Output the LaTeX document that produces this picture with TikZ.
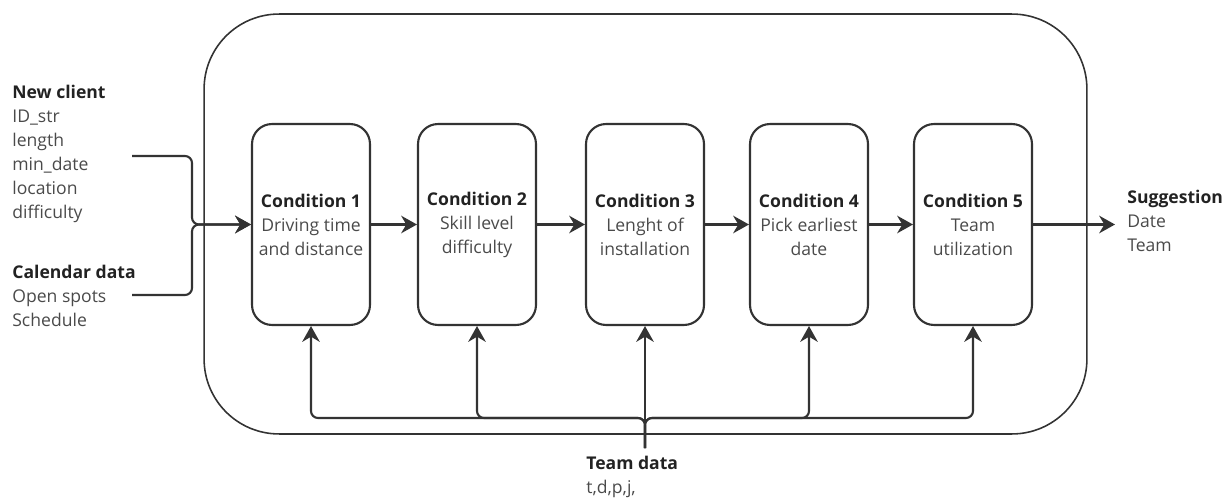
\documentclass[tikz,border=0pt]{standalone}
\usepackage{fontspec}
\setmainfont{Open Sans}
\usepackage{xcolor}
\usetikzlibrary{arrows.meta}
\definecolor{inkline}{HTML}{333333}
\definecolor{inktext}{HTML}{4A4A4A}
\definecolor{inkhead}{HTML}{222222}
\newcommand{\hd}[1]{{\bfseries\color{inkhead}#1}}

\begin{document}
\begin{tikzpicture}[x=0.02cm, y=-0.02cm,
    every node/.style={font=\fontsize{10}{13.66}\selectfont, text=inktext},
    cond/.style={draw=inkline, line width=1.2pt, rounded corners=0.4cm,
      minimum width=2.36cm, minimum height=4.02cm, align=center, inner sep=0pt},
    info/.style={align=left, anchor=north west, inner sep=0pt},
    flow/.style={draw=inkline, line width=1.2pt, rounded corners=4pt,
      -{Stealth[length=9pt,width=10pt]}}]
  \useasboundingbox (0,0) rectangle (1231,500);
  % outer frame
  \node[draw=inkline, line width=0.9pt, rounded corners=1.5cm,
    minimum width=17.66cm, minimum height=8.4cm] (sys) at (645.5,224) {};
  % conditions
  \node[cond] (c1) at (311,224.5) {\hd{Condition 1}\\Driving time\\and distance};
  \node[cond] (c2) at (477,224.5) {\hd{Condition 2}\\Skill level\\difficulty};
  \node[cond] (c3) at (645,224.5) {\hd{Condition 3}\\Lenght of\\installation};
  \node[cond] (c4) at (809,224.5) {\hd{Condition 4}\\Pick earliest\\date};
  \node[cond] (c5) at (973,224.5) {\hd{Condition 5}\\Team\\utilization};
  % inputs and outputs
  \node[info] (newclient) at (12,85) {\hd{New client}\\ID\_str\\length\\min\_date\\location\\difficulty};
  \node[info] (calendar) at (12,264.5) {\hd{Calendar data}\\Open spots\\Schedule};
  \node[info] (suggest) at (1127,190) {\hd{Suggestion}\\Date\\Team};
  \node[info] (teamdata) at (586,456) {\hd{Team data}\\t,d,p,j,};
  \coordinate (newin) at (132,156);
  \coordinate (calin) at (132,295);
  \coordinate (merge) at (192,224.5);
  \coordinate (out) at (1115,224.5);
  \coordinate (teamin) at (645,448);
  \coordinate (bus) at (645,418);
  % connectors
  \draw[flow] (newin) -| (merge) -- (c1.west);
  \draw[flow] (calin) -| (merge) -- (c1.west);
  \draw[flow] (c1) -- (c2);
  \draw[flow] (c2) -- (c3);
  \draw[flow] (c3) -- (c4);
  \draw[flow] (c4) -- (c5);
  \draw[flow] (c5) -- (out);
  \draw[flow] (teamin) -- (c3.south);
  \draw[flow] (teamin) |- (c1.south |- bus) -- (c1.south);
  \draw[flow] (teamin) |- (c2.south |- bus) -- (c2.south);
  \draw[flow] (teamin) |- (c4.south |- bus) -- (c4.south);
  \draw[flow] (teamin) |- (c5.south |- bus) -- (c5.south);
\end{tikzpicture}
\end{document}
